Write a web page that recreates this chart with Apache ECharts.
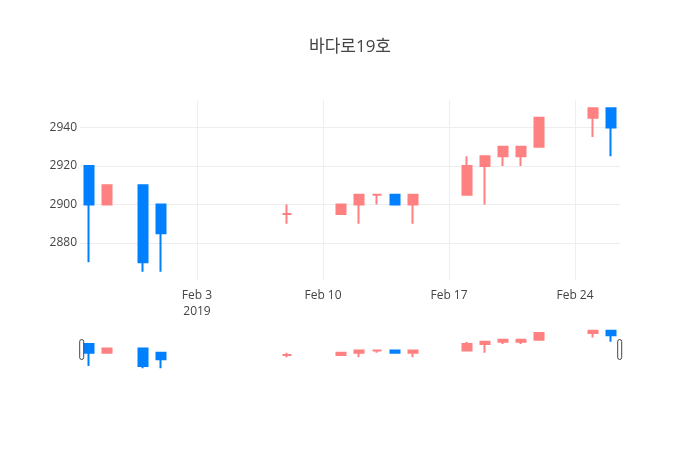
<!DOCTYPE html>
<html>
<head>
<meta charset="utf-8">
<script src="https://cdn.jsdelivr.net/npm/echarts@6/dist/echarts.min.js"></script>
<style>
  html, body { margin: 0; padding: 0; background: #fff; }
  #chart { width: 700px; height: 450px; }
</style>
</head>
<body>
<div id="chart"></div>
<script type="text/javascript">
// 날짜별 시가 / 종가 / 저가 / 고가
var dates  = ['2019-01-28', '2019-01-29', '2019-01-31', '2019-02-01', '2019-02-08',
              '2019-02-11', '2019-02-12', '2019-02-13', '2019-02-14', '2019-02-15',
              '2019-02-18', '2019-02-19', '2019-02-20', '2019-02-21', '2019-02-22',
              '2019-02-25', '2019-02-26'];
var opens  = [2920, 2900, 2910, 2900, 2895, 2895, 2900, 2905, 2905, 2900, 2905, 2920, 2925, 2925, 2930, 2945, 2950];
var closes = [2900, 2910, 2870, 2885, 2895, 2900, 2905, 2905, 2900, 2905, 2920, 2925, 2930, 2930, 2945, 2950, 2940];
var lows   = [2870, 2900, 2865, 2865, 2890, 2895, 2890, 2900, 2900, 2890, 2905, 2900, 2920, 2920, 2930, 2935, 2925];
var highs  = [2920, 2910, 2910, 2900, 2900, 2900, 2905, 2905, 2905, 2905, 2925, 2925, 2930, 2930, 2945, 2950, 2950];
var xTicks = ['2019-02-03', '2019-02-10', '2019-02-17', '2019-02-24'];
var yTicks = [2880, 2900, 2920, 2940];

var monthNames = ['Jan', 'Feb', 'Mar', 'Apr', 'May', 'Jun', 'Jul', 'Aug', 'Sep', 'Oct', 'Nov', 'Dec'];
var DAY = 86400000;
var base = Date.UTC(2019, 0, 27);
function dayNum(s) {
  var p = s.split('-');
  return (Date.UTC(+p[0], +p[1] - 1, +p[2]) - base) / DAY;
}
function dayLabel(v) {
  var d = new Date(base + Math.round(v) * DAY);
  var txt = monthNames[d.getUTCMonth()] + ' ' + d.getUTCDate();
  if (Math.round(v) === dayNum(xTicks[0])) txt += '\n' + d.getUTCFullYear();
  return txt;
}

var candleData = dates.map(function (d, i) {
  return [dayNum(d), opens[i], closes[i], lows[i], highs[i]];
});

var xMin = dayNum(dates[0]) - 0.5;
var xMax = dayNum(dates[dates.length - 1]) + 0.5;
var yMin = 2860.75, yMax = 2954.25;
var upColor = '#FF8080', downColor = '#0080FF';
var font = '"Open Sans", "Noto Sans CJK KR", sans-serif';

var candleStyle = {
  color: upColor,
  color0: downColor,
  borderColor: upColor,
  borderColor0: downColor,
  borderColorDoji: upColor,
  borderWidth: 2
};

var myChart = echarts.init(document.getElementById('chart'));
var option = {
  animation: false,
  textStyle: { fontFamily: font },
  title: {
    text: '바다로19호',
    left: 'center',
    top: 34,
    textStyle: { fontSize: 17, fontWeight: 'normal', color: '#444', fontFamily: font }
  },
  grid: [
    { left: 80, right: 80, top: 100, height: 180 },
    { left: 80, right: 80, top: 329, height: 41 }
  ],
  xAxis: [{
    type: 'value',
    min: xMin,
    max: xMax,
    axisLine: { show: false },
    axisTick: { show: false, customValues: xTicks.map(dayNum) },
    axisLabel: {
      customValues: xTicks.map(dayNum),
      formatter: dayLabel,
      color: '#444',
      fontSize: 12,
      lineHeight: 16,
      margin: 8
    },
    splitLine: { show: true, lineStyle: { color: '#eee', width: 1 } }
  }, {
    type: 'value',
    gridIndex: 1,
    min: xMin,
    max: xMax,
    show: false
  }],
  yAxis: [{
    type: 'value',
    min: yMin,
    max: yMax,
    axisLine: { show: false },
    axisTick: { show: false, customValues: yTicks },
    axisLabel: {
      customValues: yTicks,
      formatter: function (v) { return String(v); },
      color: '#444',
      fontSize: 12,
      margin: 3
    },
    splitLine: { show: true, lineStyle: { color: '#eee', width: 1 } }
  }, {
    type: 'value',
    gridIndex: 1,
    min: yMin,
    max: yMax,
    show: false
  }],
  dataZoom: [{
    type: 'slider',
    xAxisIndex: [0],
    left: 80,
    right: 80,
    top: 329,
    height: 41,
    filterMode: 'none',
    showDataShadow: false,
    showDetail: false,
    brushSelect: false,
    moveHandleSize: 0,
    backgroundColor: 'transparent',
    borderColor: 'transparent',
    fillerColor: 'rgba(0,0,0,0)',
    handleIcon: 'path://M2,0 a2,2 0 0 1 2,2 v16 a2,2 0 0 1 -2,2 a2,2 0 0 1 -2,-2 v-16 a2,2 0 0 1 2,-2 z',
    handleSize: 20,
    handleStyle: { color: '#fff', borderColor: '#444', borderWidth: 1 },
    emphasis: { handleStyle: { color: '#fff', borderColor: '#444', borderWidth: 1 } }
  }],
  series: [{
    name: '바다로19호',
    type: 'candlestick',
    xAxisIndex: 0,
    yAxisIndex: 0,
    barWidth: 9,
    encode: { x: 0, y: [1, 2, 3, 4] },
    itemStyle: candleStyle,
    data: candleData
  }, {
    name: 'rangeslider',
    type: 'candlestick',
    xAxisIndex: 1,
    yAxisIndex: 1,
    barWidth: 9,
    silent: true,
    encode: { x: 0, y: [1, 2, 3, 4] },
    itemStyle: candleStyle,
    data: candleData
  }]
};
myChart.setOption(option);
</script>
</body>
</html>
